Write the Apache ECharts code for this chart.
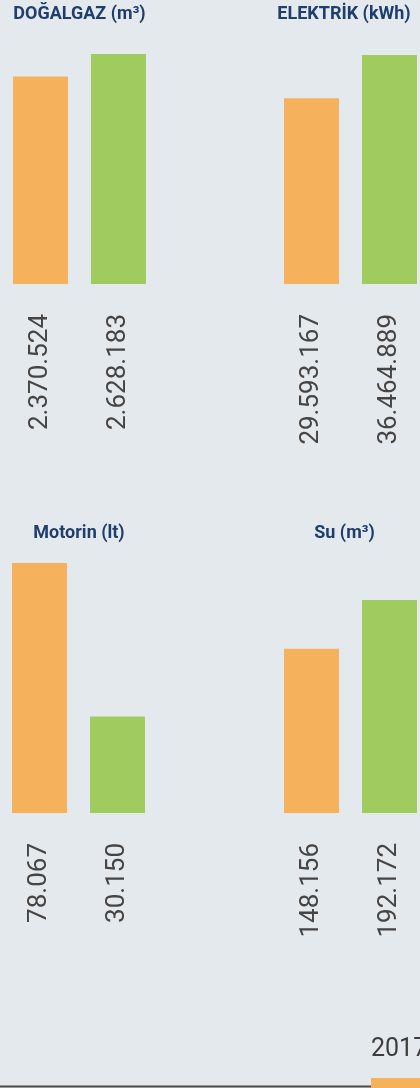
<!DOCTYPE html>
<html>
<head>
<meta charset="utf-8">
<script src="https://cdn.jsdelivr.net/npm/echarts@6/dist/echarts.min.js"></script>
<style>
  html, body { margin: 0; padding: 0; background: #e4e9ee; }
  #chart { width: 420px; height: 1088px; }
</style>
</head>
<body>
<div id="chart"></div>
<script>
// Resource consumption, one small bar panel per resource
const panelTitles = ['DOĞALGAZ (m³)', 'ELEKTRİK (kWh)', 'Motorin (lt)', 'Su (m³)'];
const years = ['2017', '2018'];
const values2017 = [2370524, 29593167, 78067, 148156];
const values2018 = [2628183, 36464889, 30150, 192172];

const yearColors = ['#f6b15c', '#a0cb5f'];
const TITLE_COLOR = '#1f3e6d';
const LABEL_COLOR = '#454545';

// Panel frames (plot area) and title centres
const frames = [
  { left: 1.5, top: 54,  width: 156, height: 230, titleX: 79.5,  titleY: 14 },
  { left: 281, top: 55,  width: 139, height: 229, titleX: 344,   titleY: 14 },
  { left: 0.5, top: 563, width: 156, height: 250, titleX: 79,    titleY: 533 },
  { left: 281, top: 600, width: 139, height: 213, titleX: 344.5, titleY: 533 }
];

// Turkish thousands separator
function fmt(v) {
  return String(v).replace(/\B(?=(\d{3})+(?!\d))/g, '.');
}

const chart = echarts.init(document.getElementById('chart'), null, { renderer: 'canvas' });

const grid = [], xAxis = [], yAxis = [], series = [], graphic = [];

frames.forEach((f, i) => {
  grid.push({ left: f.left, top: f.top, width: f.width, height: f.height, containLabel: false });
  xAxis.push({
    type: 'category',
    gridIndex: i,
    data: [panelTitles[i]],
    show: false
  });
  yAxis.push({
    type: 'value',
    gridIndex: i,
    min: 0,
    max: v => v.max,
    show: false
  });
  [values2017, values2018].forEach((vals, k) => {
    series.push({
      name: years[k],
      type: 'bar',
      xAxisIndex: i,
      yAxisIndex: i,
      barWidth: 55,
      barGap: '41.8%',
      silent: true,
      itemStyle: { color: yearColors[k] },
      label: {
        show: true,
        position: 'bottom',
        distance: 30,
        rotate: 90,
        align: 'right',
        verticalAlign: 'middle',
        fontFamily: 'Roboto',
        fontSize: 26,
        color: LABEL_COLOR,
        formatter: p => fmt(p.value)
      },
      data: [vals[i]]
    });
  });
  graphic.push({
    type: 'text',
    x: f.titleX,
    y: f.titleY,
    style: {
      text: panelTitles[i],
      font: 'bold 18px Roboto',
      fill: TITLE_COLOR,
      align: 'center',
      verticalAlign: 'middle'
    }
  });
});

// Year key at the foot of the page
graphic.push(
  {
    type: 'line',
    shape: { x1: 0, y1: 1086.5, x2: 371, y2: 1086.5 },
    style: { stroke: '#4a4a4a', lineWidth: 2 }
  },
  {
    type: 'rect',
    shape: { x: 371, y: 1078, width: 60, height: 12 },
    style: { fill: yearColors[0] }
  },
  {
    type: 'text',
    x: 371,
    y: 1062,
    style: {
      text: years[0],
      font: '25px Roboto',
      fill: '#3d3d3d',
      align: 'left',
      verticalAlign: 'bottom'
    }
  }
);

chart.setOption({
  backgroundColor: '#e4e9ee',
  animation: false,
  grid, xAxis, yAxis, series, graphic
});
</script>
</body>
</html>
